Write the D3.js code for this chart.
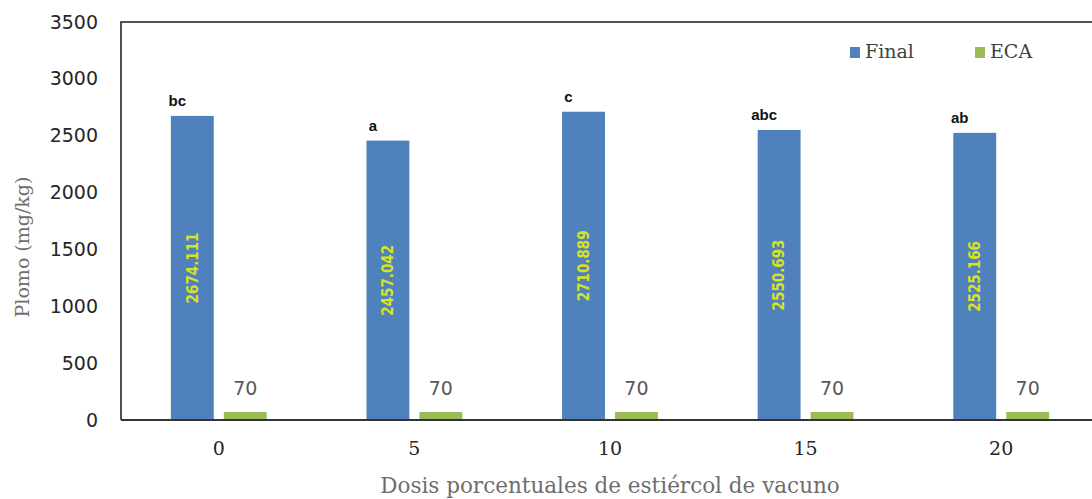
<!DOCTYPE html>
<html>
<head>
<meta charset="utf-8">
<script src="https://cdn.jsdelivr.net/npm/d3@7"></script>
<style>
  body { margin: 0; background: #fff; }
  svg { display: block; }
</style>
</head>
<body>
<div id="chart"></div>
<script>
var W = 1092, H = 499;
var margin = {left: 121, top: 22, right: -7, bottom: 79};

// data
var dosis = ["0", "5", "10", "15", "20"];
var series = ["Final", "ECA"];
var finalVals = [2674.111, 2457.042, 2710.889, 2550.693, 2525.166];
var ecaVals = [70, 70, 70, 70, 70];
var letras = ["bc", "a", "c", "abc", "ab"];
var yTicks = [0, 500, 1000, 1500, 2000, 2500, 3000, 3500];

var colors = {Final: "#4F81BD", ECA: "#9BBB59"};

var rows = dosis.map(function(d, i) {
  return {dosis: d, Final: finalVals[i], ECA: ecaVals[i], letra: letras[i]};
});

////////////////////// scales //////////////////////
var x0 = d3.scaleBand()
  .domain(dosis)
  .range([margin.left, W - margin.right])
  .paddingInner(0.51)
  .paddingOuter(0.255);

var x1 = d3.scaleBand()
  .domain(series)
  .range([0, x0.bandwidth()])
  .paddingInner(0.19);

var y = d3.scaleLinear()
  .domain([0, 3500])
  .range([H - margin.bottom, margin.top]);

var svg = d3.select("#chart").append("svg")
  .attr("width", W)
  .attr("height", H);

////////////////////// bars //////////////////////
var groups = svg.selectAll("g.grp")
  .data(rows)
  .enter().append("g")
  .attr("class", "grp")
  .attr("transform", function(d) { return "translate(" + x0(d.dosis) + ",0)"; });

groups.selectAll("rect")
  .data(function(d) { return series.map(function(s) { return {key: s, value: d[s]}; }); })
  .enter().append("rect")
  .attr("x", function(d) { return x1(d.key); })
  .attr("y", function(d) { return y(d.value); })
  .attr("width", x1.bandwidth())
  .attr("height", function(d) { return y(0) - y(d.value); })
  .style("fill", function(d) { return colors[d.key]; });

// frame (top + left), bottom axis line
svg.append("path")
  .attr("d", "M" + margin.left + "," + (H - margin.bottom) + "V" + margin.top + "H" + (W - margin.right))
  .style("fill", "none")
  .style("stroke", "#1a1a1a")
  .style("stroke-width", 1.5);

svg.append("line")
  .attr("x1", margin.left).attr("x2", W - margin.right)
  .attr("y1", y(0)).attr("y2", y(0))
  .style("stroke", "#333")
  .style("stroke-width", 2);

// value labels inside blue bars
groups.append("text")
  .attr("transform", function(d) {
    var cx = x1("Final") + x1.bandwidth() / 2;
    var cy = (y(d.Final) + y(0)) / 2;
    return "translate(" + cx + "," + cy + ") rotate(-90)";
  })
  .attr("text-anchor", "middle")
  .attr("dy", "0.35em")
  .style("font-family", "'DejaVu Sans Condensed', 'DejaVu Sans', sans-serif")
  .style("font-size", "15px")
  .style("font-weight", "bold")
  .style("fill", "#D9E21F")
  .text(function(d) { return d.Final.toFixed(3); });

// ECA labels
groups.append("text")
  .attr("x", x1("ECA") + x1.bandwidth() / 2)
  .attr("y", function(d) { return y(d.ECA) - 17; })
  .attr("text-anchor", "middle")
  .style("font-family", "'DejaVu Sans', sans-serif")
  .style("font-size", "19px")
  .style("fill", "#595959")
  .text(function(d) { return d.ECA; });

// significance letters
groups.append("text")
  .attr("x", x1("Final") + x1.bandwidth() / 2 - 15)
  .attr("y", function(d) { return y(d.Final) - 10; })
  .attr("text-anchor", "middle")
  .style("font-family", "'Liberation Sans', Arial, sans-serif")
  .style("font-size", "15px")
  .style("font-weight", "bold")
  .style("fill", "#111")
  .text(function(d) { return d.letra; });

////////////////////// axes //////////////////////
var yAxis = svg.append("g")
  .attr("transform", "translate(" + margin.left + ",0)")
  .call(d3.axisLeft(y).tickValues(yTicks).tickFormat(d3.format("d")).tickSize(0).tickPadding(23));
yAxis.select(".domain").remove();
yAxis.selectAll("text")
  .style("font-family", "'DejaVu Sans', sans-serif")
  .style("font-size", "19px")
  .style("fill", "#262626");

var xAxis = svg.append("g")
  .attr("transform", "translate(0," + y(0) + ")")
  .call(d3.axisBottom(x0).tickSize(0).tickPadding(22));
xAxis.select(".domain").remove();
xAxis.selectAll("text")
  .style("font-family", "'DejaVu Serif', serif")
  .style("font-size", "19px")
  .style("fill", "#262626");

// axis titles
svg.append("text")
  .attr("x", (margin.left + W - margin.right) / 2)
  .attr("y", 493)
  .attr("text-anchor", "middle")
  .style("font-family", "'DejaVu Serif', serif")
  .style("font-size", "21.5px")
  .style("fill", "#6e6e6e")
  .text("Dosis porcentuales de estiércol de vacuno");

svg.append("text")
  .attr("transform", "translate(29,247) rotate(-90)")
  .attr("text-anchor", "middle")
  .style("font-family", "'DejaVu Serif', serif")
  .style("font-size", "19px")
  .style("fill", "#6e6e6e")
  .text("Plomo (mg/kg)");

////////////////////// legend //////////////////////
var legendX = {Final: 850, ECA: 975};
var legend = svg.selectAll("g.legend")
  .data(series)
  .enter().append("g")
  .attr("class", "legend")
  .attr("transform", function(d) { return "translate(" + legendX[d] + ",47)"; });

legend.append("rect")
  .attr("width", 10).attr("height", 11)
  .style("fill", function(d) { return colors[d]; });

legend.append("text")
  .attr("x", 15).attr("y", 11)
  .style("font-family", "'DejaVu Serif', serif")
  .style("font-size", "19px")
  .style("fill", "#404040")
  .text(function(d) { return d; });
</script>
</body>
</html>
